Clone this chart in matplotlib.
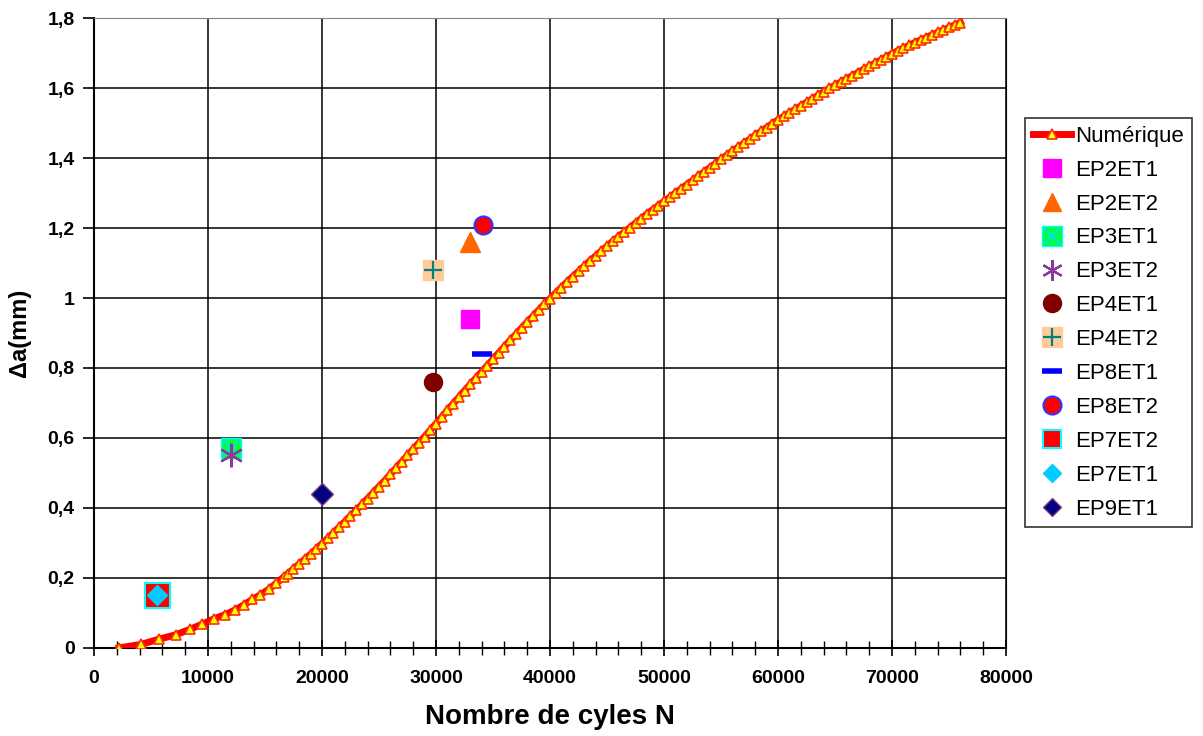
import matplotlib.pyplot as plt
import matplotlib.ticker as mticker
from matplotlib import rcParams
from matplotlib.legend_handler import HandlerTuple

rcParams['font.family'] = ['Liberation Sans', 'DejaVu Sans']

# Numerical curve
num_N = [2200, 4100, 5700, 7200, 8400, 9500, 10500, 11500, 12400, 13200,
         13900, 14600, 15350, 16000, 16700,
         17000, 17500, 18000, 18500, 19000, 19500, 20000, 20500, 21000, 21500,
         22000, 22500, 23000, 23500, 24000, 24500, 25000, 25500, 26000, 26500,
         27000, 27500, 28000, 28500, 29000, 29500, 30000, 30500, 31000, 31500,
         32000, 32500, 33000, 33500, 34000, 34500, 35000, 35500, 36000, 36500,
         37000, 37500, 38000, 38500, 39000, 39500, 40000, 40500, 41000, 41500,
         42000, 42500, 43000, 43500, 44000, 44500, 45000, 45500, 46000, 46500,
         47000, 47500, 48000, 48500, 49000, 49500, 50000, 50500, 51000, 51500,
         52000, 52500, 53000, 53500, 54000, 54500, 55000, 55500, 56000, 56500,
         57000, 57500, 58000, 58500, 59000, 59500, 60000, 60500, 61000, 61500,
         62000, 62500, 63000, 63500, 64000, 64500, 65000, 65500, 66000, 66500,
         67000, 67500, 68000, 68500, 69000, 69500, 70000, 70500, 71000, 71500,
         72000, 72500, 73000, 73500, 74000, 74500, 75000, 75500, 76000]
num_da = [0.0, 0.010, 0.025, 0.038, 0.053, 0.068, 0.083, 0.095, 0.109, 0.124,
          0.139, 0.152, 0.168, 0.185, 0.204,
          0.212, 0.226, 0.240, 0.254, 0.268, 0.283, 0.298, 0.313, 0.329, 0.345,
          0.361, 0.377, 0.394, 0.410, 0.427, 0.444, 0.461, 0.478, 0.496, 0.514,
          0.532, 0.550, 0.568, 0.586, 0.604, 0.622, 0.641, 0.660, 0.679, 0.698,
          0.716, 0.735, 0.753, 0.771, 0.789, 0.807, 0.825, 0.843, 0.861, 0.879,
          0.896, 0.914, 0.931, 0.948, 0.965, 0.982, 0.998, 1.014, 1.030, 1.046,
          1.061, 1.076, 1.091, 1.106, 1.120, 1.134, 1.148, 1.162, 1.175, 1.188,
          1.201, 1.214, 1.227, 1.240, 1.252, 1.264, 1.276, 1.288, 1.300, 1.312,
          1.324, 1.336, 1.348, 1.360, 1.372, 1.384, 1.396, 1.408, 1.420, 1.431,
          1.442, 1.453, 1.465, 1.476, 1.487, 1.498, 1.509, 1.519, 1.529, 1.539,
          1.549, 1.559, 1.569, 1.579, 1.589, 1.599, 1.608, 1.617, 1.626, 1.635,
          1.644, 1.653, 1.662, 1.671, 1.680, 1.689, 1.698, 1.706, 1.714, 1.722,
          1.730, 1.737, 1.744, 1.752, 1.759, 1.766, 1.773, 1.780, 1.787]

# Experimental points
exp_names = ['EP2ET1', 'EP2ET2', 'EP3ET1', 'EP3ET2', 'EP4ET1', 'EP4ET2',
             'EP8ET1', 'EP8ET2', 'EP7ET2', 'EP7ET1', 'EP9ET1']
exp_N = [33000, 33000, 12000, 12000, 29700, 29700,
         34000, 34100, 5500, 5500, 20000]
exp_da = [0.94, 1.16, 0.57, 0.55, 0.76, 1.08,
          0.84, 1.21, 0.15, 0.15, 0.44]

x_ticks = [0, 10000, 20000, 30000, 40000, 50000, 60000, 70000, 80000]
y_ticks = [0, 0.2, 0.4, 0.6, 0.8, 1.0, 1.2, 1.4, 1.6, 1.8]
y_ticklabels = ['0', '0,2', '0,4', '0,6', '0,8', '1', '1,2', '1,4', '1,6', '1,8']

fig = plt.figure(figsize=(12.03, 7.36), dpi=100)
ax = fig.add_axes([0.0781, 0.1196, 0.7582, 0.8559])

line_num, = ax.plot(num_N, num_da, color='#FF0000', lw=5,
                    marker='^', ms=6.5, mfc='#FFFF00', mec='#FF3000', mew=1.2,
                    zorder=3)

# marker styles per experimental series
styles = {
    'EP2ET1': [dict(marker='s', ms=13, mfc='#FF00FF', mec='#FF00FF')],
    'EP2ET2': [dict(marker='^', ms=14, mfc='#FF6600', mec='#FF6600')],
    'EP3ET1': [dict(marker='s', ms=14, mfc='#00FF40', mec='#00FFFF', mew=1),
               dict(marker='x', ms=11, mec='#00E0E0', mew=1.5)],
    'EP3ET2': [dict(marker=(6, 2, 0), ms=17, mec='#8B3A9B', mew=1.6)],
    'EP4ET1': [dict(marker='o', ms=13, mfc='#800000', mec='#800000')],
    'EP4ET2': [dict(marker='s', ms=14, mfc='#FFCC99', mec='#FFCC99'),
               dict(marker='+', ms=13, mec='#008080', mew=1.6)],
    'EP8ET1': [dict(marker='_', ms=14, mec='#0000FF', mew=4)],
    'EP8ET2': [dict(marker='o', ms=13, mfc='#FF0000', mec='#3333FF', mew=1.5)],
    'EP7ET2': [dict(marker='s', ms=18, mfc='#FF0000', mec='#00FFFF', mew=1.5)],
    'EP7ET1': [dict(marker='D', ms=10, mfc='#00CCFF', mec='#00CCFF')],
    'EP9ET1': [dict(marker='D', ms=11, mfc='#000080', mec='#7F3F7F', mew=1)],
}
# smaller versions for the legend
legend_ms = {'EP7ET2': 13, 'EP3ET2': 15, 'EP2ET2': 13, 'EP7ET1': 9,
             'EP9ET1': 9}

handles = [line_num]
labels = ['Numérique']
for name, n, d in zip(exp_names, exp_N, exp_da):
    hs = []
    for st in styles[name]:
        ax.plot([n], [d], ls='none', zorder=4, **st)
        st2 = dict(st)
        if name in legend_ms:
            st2['ms'] = legend_ms[name]
        h, = ax.plot([], [], ls='none', **st2)
        hs.append(h)
    handles.append(tuple(hs) if len(hs) > 1 else hs[0])
    labels.append(name)

ax.set_xlim(0, 80000)
ax.set_ylim(0, 1.8)
ax.set_xticks(x_ticks)
ax.set_xticklabels([str(v) for v in x_ticks])
ax.xaxis.set_minor_locator(mticker.MultipleLocator(2000))
ax.set_yticks(y_ticks)
ax.set_yticklabels(y_ticklabels)

ax.grid(True, which='major', color='black', lw=1.1)
ax.set_axisbelow(True)
ax.tick_params(axis='x', which='major', direction='inout', length=12, width=1.2,
               labelsize=14, pad=10)
ax.tick_params(axis='x', which='minor', direction='inout', length=10, width=1.0)
ax.tick_params(axis='y', which='major', direction='out', length=8, width=1.2,
               labelsize=14, pad=6)
for lab in ax.get_xticklabels() + ax.get_yticklabels():
    lab.set_fontweight('bold')

for side in ['left', 'bottom']:
    ax.spines[side].set_linewidth(1.5)
    ax.spines[side].set_color('black')
ax.spines['top'].set_color('#808080')
ax.spines['right'].set_color('black')

ax.set_xlabel('Nombre de cyles N', fontsize=20, fontweight='bold', labelpad=12)
ax.set_ylabel('Δa(mm)', fontsize=17, fontweight='bold', labelpad=12)

leg = fig.legend(handles, labels, loc='upper left',
                 bbox_to_anchor=(1025 / 1203, 1 - 118 / 736),
                 fontsize=16, frameon=True, fancybox=False, edgecolor='black',
                 handlelength=1.7, handletextpad=0.2, labelspacing=0.58,
                 borderpad=0.35, borderaxespad=0, numpoints=1,
                 handler_map={tuple: HandlerTuple(ndivide=1, pad=0)})
leg.get_frame().set_linewidth(1.2)

fig.savefig('out.png', dpi=100)
